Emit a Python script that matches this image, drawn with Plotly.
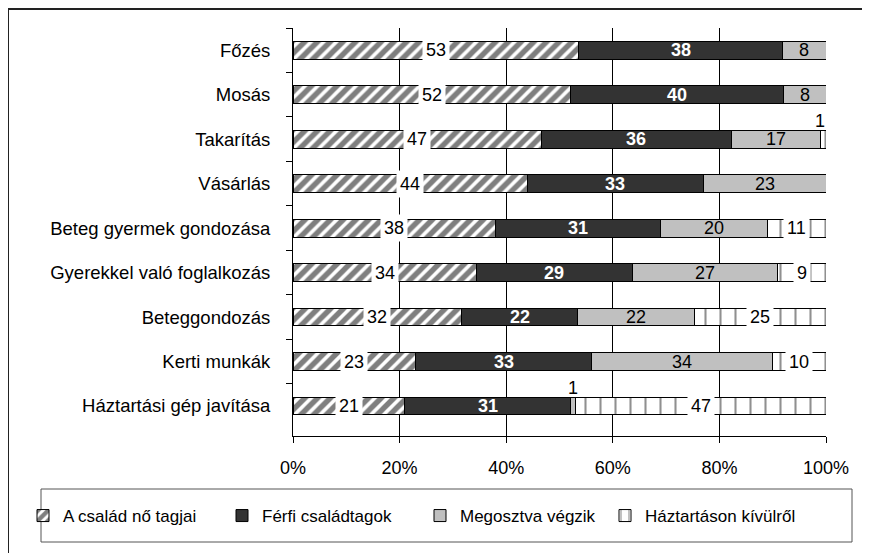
import plotly.graph_objects as go

categories = ["Főzés", "Mosás", "Takarítás", "Vásárlás", "Beteg gyermek gondozása",
              "Gyerekkel való foglalkozás", "Beteggondozás", "Kerti munkák",
              "Háztartási gép javítása"]
series_names = ["A család nő tagjai", "Férfi családtagok", "Megosztva végzik", "Háztartáson kívülről"]
women = [53, 52, 47, 44, 38, 34, 32, 23, 21]
men = [38, 40, 36, 33, 31, 29, 22, 33, 31]
shared = [8, 8, 17, 23, 20, 27, 22, 34, 1]
outside = [0, 0, 1, 0, 11, 9, 25, 10, 47]
x_ticks = [0, 20, 40, 60, 80, 100]
x_tick_labels = ["0%", "20%", "40%", "60%", "80%", "100%"]

FONT = "Liberation Sans, Arial, sans-serif"
series = [women, men, shared, outside]

# page has an 8px body margin; figure coordinates = page coordinates - 8
OFF = 8
W, H = 862, 545
L, T = 293 - OFF, 28 - OFF
pw, ph = 533, 408
R, B = W - L - pw, H - T - ph


def px_x(p):
    return (p - OFF - L) / pw


def px_y(p):
    return (T + ph - (p - OFF)) / ph


styles = [
    dict(color="white", pattern=dict(shape="/", fgcolor="black", bgcolor="white", size=9, solidity=0.6)),
    dict(color="#333333"),
    dict(color="#c0c0c0"),
    dict(color="white", pattern=dict(shape="|", fgcolor="#222222", bgcolor="white", size=15, solidity=0.14)),
]
legend_ids = ["legend", "legend2", "legend3", "legend4"]
legend_text_px = [63, 262, 460, 645]

fig = go.Figure()
for k in range(4):
    fig.add_trace(go.Bar(
        y=categories, x=series[k], orientation="h", name=series_names[k],
        marker=dict(line=dict(color="black", width=1), **styles[k]),
        legend=legend_ids[k], showlegend=True, hoverinfo="x+y+name",
    ))

annotations = []
for i, cat in enumerate(categories):
    vals = [s[i] for s in series]
    total = sum(vals)
    start = 0
    for k, v in enumerate(vals):
        if v == 0:
            continue
        mid = (start + v / 2) / total * 100
        start += v
        a = dict(x=mid, y=cat, xref="x", yref="y", text=str(v), showarrow=False,
                 font=dict(family=FONT, size=18, color="black"))
        if v <= 2:
            a.update(yshift=18)
            if mid > 98:
                a.update(xanchor="right", x=100, xshift=1)
        elif k == 1:
            a.update(text="<b>%d</b>" % v, font=dict(family=FONT, size=18, color="white"))
        elif k in (0, 3):
            a.update(bgcolor="white", borderpad=3)
        annotations.append(a)

shapes = [
    dict(type="rect", xref="paper", yref="paper", x0=px_x(8), x1=px_x(900), y0=px_y(9), y1=px_y(600),
         line=dict(color="#222222", width=2), fillcolor="rgba(0,0,0,0)", layer="below"),
    dict(type="rect", xref="paper", yref="paper", x0=px_x(41), x1=px_x(852), y0=px_y(542), y1=px_y(489),
         line=dict(color="#555555", width=1), fillcolor="rgba(0,0,0,0)"),
]

layout = dict(
    width=W, height=H,
    margin=dict(l=L, r=R, t=T, b=B, pad=0),
    barmode="stack", barnorm="percent", bargap=0.6,
    showlegend=True,
    paper_bgcolor="white", plot_bgcolor="white",
    font=dict(family=FONT, size=18, color="black"),
    xaxis=dict(range=[0, 100], tickvals=x_ticks, ticktext=x_tick_labels,
               showgrid=True, gridcolor="black", gridwidth=1, zeroline=False,
               showline=True, linecolor="black", linewidth=1,
               ticks="outside", ticklen=6, tickcolor="black", automargin=False,
               ticklabelstandoff=9, tickfont=dict(family=FONT, size=18)),
    yaxis=dict(categoryorder="array", categoryarray=categories, autorange="reversed",
               showline=True, linecolor="black", linewidth=1, showgrid=False,
               ticks="outside", tickson="boundaries", ticklen=6, tickcolor="black",
               automargin=False,
               ticklabelstandoff=18, tickfont=dict(family=FONT, size=18.5)),
    annotations=annotations,
    shapes=shapes,
)
for lid, tx in zip(legend_ids, legend_text_px):
    layout[lid] = dict(x=(tx - OFF - 40) / W, y=(H - (516 - OFF)) / H,
                       xref="container", yref="container",
                       xanchor="left", yanchor="middle",
                       orientation="h", bgcolor="rgba(0,0,0,0)",
                       font=dict(family=FONT, size=17), itemwidth=30)
fig.update_layout(**layout)
fig.write_html("out.html")
